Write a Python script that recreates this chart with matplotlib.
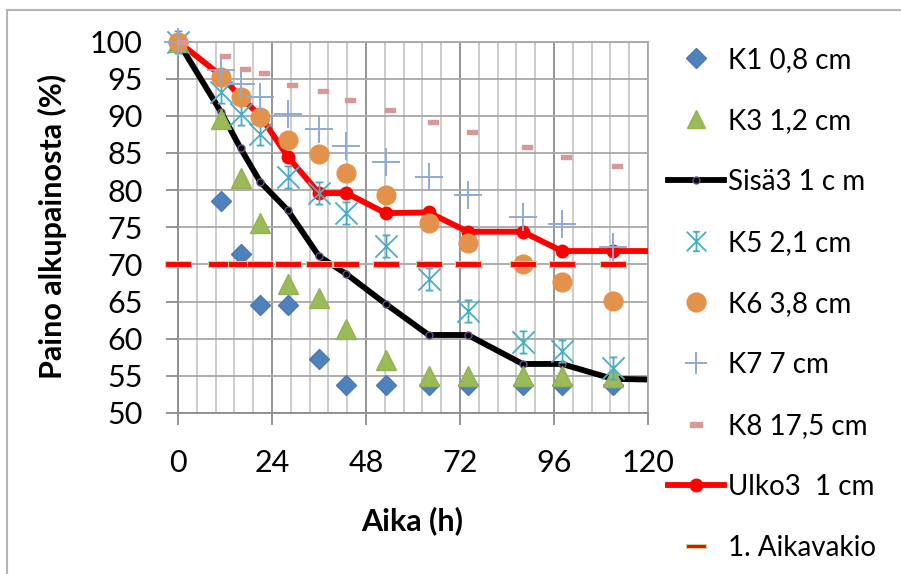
"""
plot.py - weight loss of wood samples over time (Paino alkupainosta)

Scatter series per sample thickness plus two line series and the
first time-constant level. Saves the figure to out.png.
"""

import matplotlib
matplotlib.use("Agg")
import matplotlib.pyplot as plt
from matplotlib.lines import Line2D
from matplotlib.path import Path
from matplotlib.ticker import MultipleLocator

plt.rcParams.update({
    "font.family": ["Lato", "DejaVu Sans"],
    "figure.facecolor": "white",
})

# Measurement times (h)
times = [0, 11, 16, 21, 28, 36, 43, 53, 64, 74, 88, 98, 111]
# K8 dashes sit about 1 h to the right of the others in the original
k8_times = [1, 12, 17, 22, 29, 37, 44, 54, 65, 75, 89, 99, 112]
# line series continue past the right edge of the plot
line_times = [0, 11, 16, 21, 28, 36, 43, 53, 64, 74, 88, 98, 111, 130]

k1 = [100, 78.6, 71.4, 64.5, 64.5, 57.3, 53.8, 53.8, 53.8, 53.8, 53.8, 53.8, 53.8]
k3 = [100, 89.6, 81.6, 75.6, 67.3, 65.5, 61.3, 57.2, 55.0, 55.0, 55.0, 55.0, 54.8]
sisa3 = [100, 90.5, 85.6, 81.1, 77.3, 71.1, 68.7, 64.7, 60.5, 60.5, 56.6, 56.6, 54.6, 54.4]
k5 = [100, 93.2, 90.3, 87.6, 81.8, 79.6, 76.9, 72.5, 68.0, 63.7, 59.5, 58.4, 56.1]
k6 = [100, 95.2, 92.5, 89.9, 86.8, 84.9, 82.3, 79.4, 75.6, 72.9, 70.0, 67.6, 65.1]
k7 = [100, 96.2, 94.3, 92.5, 90.3, 88.2, 86.0, 83.8, 81.8, 79.4, 76.4, 75.5, 72.4]
k8 = [100, 98.0, 96.3, 95.8, 94.2, 93.4, 92.1, 90.8, 89.2, 87.8, 85.8, 84.5, 83.2]
ulko3 = [100, 95.4, 92.5, 90.0, 84.5, 79.6, 79.6, 76.9, 77.0, 74.4, 74.4, 71.8, 71.8, 71.8]
aikavakio = [70, 70, 70, 70, 70, 70, 70, 70, 70, 70, 70, 70, 70]

labels = ["K1 0,8 cm", "K3 1,2 cm", "Sisä3 1 c m", "K5 2,1 cm", "K6 3,8 cm",
          "K7 7 cm", "K8 17,5 cm", "Ulko3  1 cm", "1. Aikavakio"]
x_ticks = [0, 24, 48, 72, 96, 120]
y_ticks = [50, 55, 60, 65, 70, 75, 80, 85, 90, 95, 100]

# Excel-like "star" marker: X, vertical bar, short caps
STAR = Path(
    [(-1, -1), (1, 1), (-1, 1), (1, -1), (0, -1), (0, 1),
     (-0.35, 1), (0.35, 1), (-0.35, -1), (0.35, -1)],
    [Path.MOVETO, Path.LINETO] * 5,
)


def _dash(ratio):
    """Filled rectangle marker, width 2, height 2*ratio."""
    return Path([(-1, -ratio), (1, -ratio), (1, ratio), (-1, ratio), (-1, -ratio)],
                [Path.MOVETO, Path.LINETO, Path.LINETO, Path.LINETO, Path.CLOSEPOLY])


fig = plt.figure(figsize=(9.01, 5.74), dpi=100)
ax = fig.add_axes([178 / 901, 1 - 413 / 574, 470 / 901, 371.5 / 574])

mk = dict(ls="none", clip_on=False, zorder=4)
h_k1, = ax.plot(times, k1, marker="D", ms=10, color="#4f81bd", mec="#4a7ab5", **mk)
h_k3, = ax.plot(times, k3, marker="^", ms=15, color="#9bbb59", mec="#93b254", **mk)
h_sisa, = ax.plot(line_times, sisa3, color="black", lw=4.2, marker="o", ms=5,
                  mfc="black", mec="#6a4c8c", mew=1.0, zorder=2)
h_k5, = ax.plot(times, k5, marker=STAR, ms=16, color="#4bacc6", mew=1.3, **mk)
h_k6, = ax.plot(times, k6, marker="o", ms=13.5, color="#e3924b", mec="#e3924b", **mk)
h_k7, = ax.plot(times, k7, marker="+", ms=20, color="#8eaad8", mew=1.4, **mk)
h_k8, = ax.plot(k8_times, k8, marker=_dash(0.45), ms=7.5, color="#d79997",
                mec="#d79997", **mk)
h_ulko, = ax.plot(line_times, ulko3, color="#ff0000", lw=4.2, marker="o", ms=9,
                  mfc="#ff0000", mec="#ff0000", zorder=3)
h_aika, = ax.plot(times, aikavakio, marker=_dash(0.22), ms=18.5, color="#ff0000",
                  mec="#c4d79b", mew=0.8, ls="none", clip_on=False, zorder=5)

ax.set_xlim(0, 120)
ax.set_ylim(50, 100)
ax.set_xticks(x_ticks)
ax.set_yticks(y_ticks)
ax.xaxis.set_minor_locator(MultipleLocator(4.8))

ax.set_axisbelow(True)
ax.grid(True, which="major", axis="x", color="#8c8c8c", lw=1.3)
ax.grid(True, which="minor", axis="x", color="#c8c8c8", lw=1.3)
ax.grid(True, which="major", axis="y", color="#a8a8a8", lw=1.3)

for side in ["left", "bottom"]:
    ax.spines[side].set_color("#8c8c8c")
    ax.spines[side].set_linewidth(1.3)
for side in ["top", "right"]:
    ax.spines[side].set_color("#a8a8a8")
    ax.spines[side].set_linewidth(1.3)

ax.tick_params(axis="both", which="major", direction="out", length=8.5,
               width=1.3, color="#8c8c8c", labelsize=22)
ax.tick_params(axis="x", which="major", pad=17.5)
ax.tick_params(axis="y", which="major", pad=17)
ax.tick_params(axis="x", which="minor", length=0)

fig.text(412 / 901, 1 - 521 / 574, "Aika (h)", ha="center", va="center",
         fontsize=22, fontweight="bold")
fig.text(52 / 901, 1 - 226 / 574, "Paino alkupainosta (%)", ha="center",
         va="center", rotation=90, fontsize=22, fontweight="bold")

handles = [h_k1, h_k3, h_sisa, h_k5, h_k6, h_k7, h_k8, h_ulko, h_aika]
leg = fig.legend(handles, labels, loc="upper left",
                 bbox_to_anchor=(668 / 901, 1 - 47 / 574), frameon=False,
                 fontsize=20, labelspacing=1.26, handlelength=2.0,
                 handletextpad=0.15, borderpad=0, borderaxespad=0)
# legend markers a touch smaller than in the plot
for h, size in zip(leg.legend_handles, [10, 13, 5, 14, 13.5, 16, 8, 9, 15]):
    h.set_markersize(size)

# chart border (only left and top edges visible in the crop)
fig.add_artist(Line2D([7 / 901, 7 / 901], [0, 1 - 10 / 574], color="#b4b4b4",
                      lw=1.5, transform=fig.transFigure))
fig.add_artist(Line2D([7 / 901, 1], [1 - 10 / 574, 1 - 10 / 574], color="#b4b4b4",
                      lw=1.5, transform=fig.transFigure))

fig.savefig("out.png", dpi=100)
